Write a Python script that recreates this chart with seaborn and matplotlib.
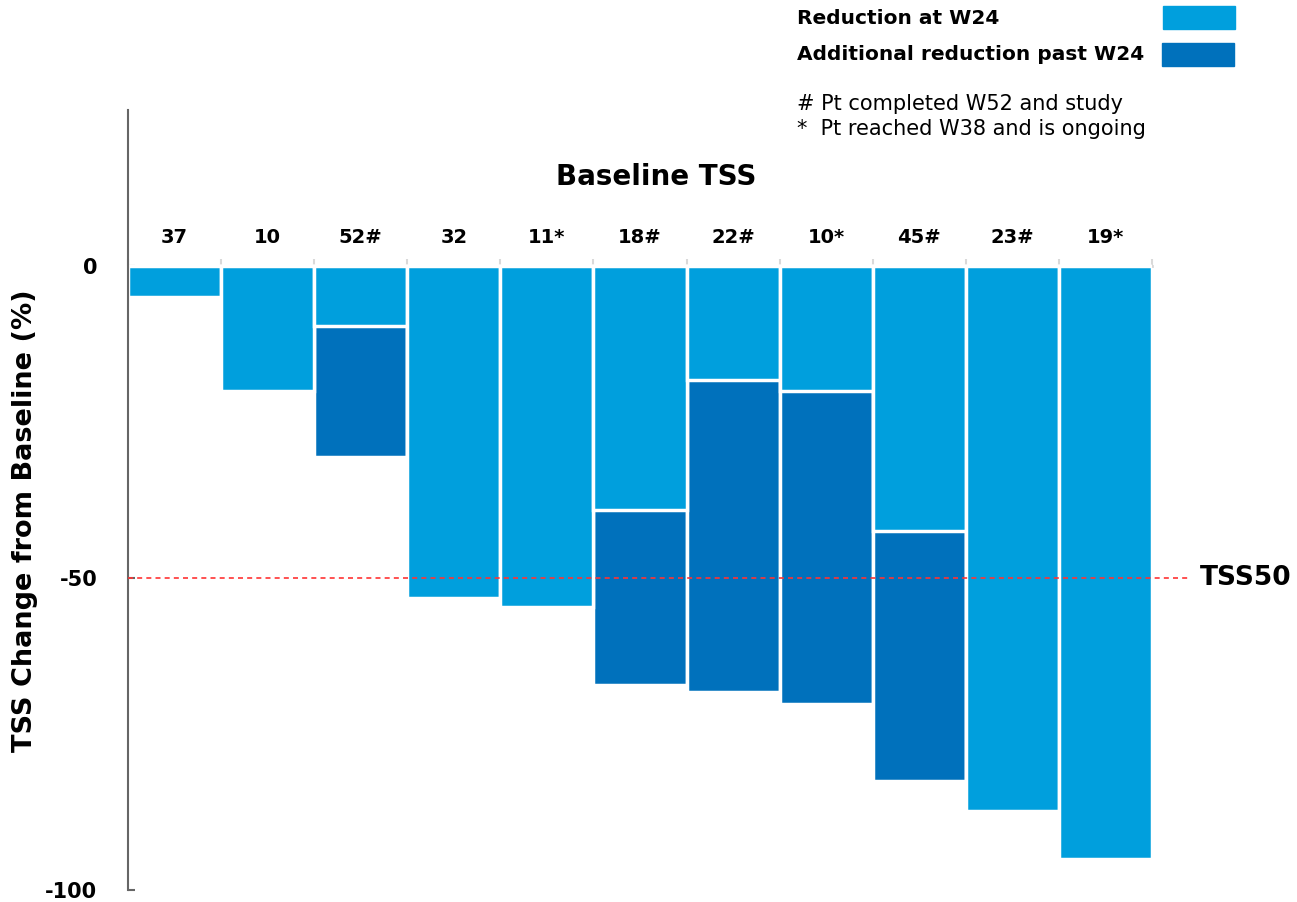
import matplotlib
matplotlib.use("Agg")
import matplotlib.pyplot as plt
import seaborn as sns
import pandas as pd
from matplotlib.patches import Rectangle

## values
baseline_tss = ["37", "10", "52#", "32", "11*", "18#", "22#", "10*", "45#", "23#", "19*"]
reduction_w24 = [-5.0, -20.0, -9.6, -53.2, -54.6, -39.1, -18.3, -20.0, -42.5, -87.3, -95.0]
reduction_final = [-5.0, -20.0, -30.6, -53.2, -54.6, -67.1, -68.3, -70.2, -82.5, -87.3, -95.0]
y_ticks = [0, -50, -100]

light_blue = "#009FDD"
dark_blue = "#0071BC"

sns.set_theme(style="white")
plt.rcParams["font.family"] = ["DejaVu Sans"]
plt.rcParams["text.color"] = "black"
plt.rcParams["xtick.color"] = "black"
plt.rcParams["ytick.color"] = "black"
plt.rcParams["axes.labelcolor"] = "black"

df = pd.DataFrame({"tss": baseline_tss, "w24": reduction_w24, "final": reduction_final})

fig = plt.figure(figsize=(12.97, 9.02), dpi=100)
ax = fig.add_axes([128 / 1297, 12 / 902, 1024 / 1297, 780 / 902])

# dark (total) first, light (W24) drawn over it
sns.barplot(data=df, x="tss", y="final", color=dark_blue, width=1.0, saturation=1,
            edgecolor="white", linewidth=2.5, ax=ax)
sns.barplot(data=df, x="tss", y="w24", color=light_blue, width=1.0, saturation=1,
            edgecolor="white", linewidth=2.5, ax=ax)

ax.set_xlim(-0.5, len(baseline_tss) - 0.5)
ax.set_ylim(-100, 25)

# spines
for s in ["right", "bottom"]:
    ax.spines[s].set_visible(False)
ax.spines["left"].set_color("#666666")
ax.spines["left"].set_linewidth(1.5)
ax.spines["top"].set_position(("data", 0))
ax.spines["top"].set_color("#d9d9d9")
ax.spines["top"].set_linewidth(2)
ax.spines["top"].set_zorder(0.5)

# category labels on top
ax.xaxis.tick_top()
ax.set_xticks(range(len(baseline_tss)))
ax.set_xticklabels(baseline_tss, fontsize=14, fontweight="bold")
ax.set_xticks([i - 0.5 for i in range(len(baseline_tss) + 1)], minor=True)
ax.tick_params(axis="x", which="major", length=0, pad=14)
ax.tick_params(axis="x", which="minor", top=True, length=5, width=1.5, color="#d9d9d9",
               direction="out")
ax.set_xlabel("")

ax.set_yticks(y_ticks)
ax.set_yticklabels([str(v) for v in y_ticks], fontsize=15, fontweight="bold")
ax.tick_params(axis="y", left=True, length=5, width=1.5, color="#666666", direction="in",
               pad=22)
ax.set_ylabel("TSS Change from Baseline (%)", fontsize=19.5, fontweight="bold")
ax.yaxis.set_label_coords(-0.088, 0.474)

# TSS50 threshold
ax.axhline(-50, xmin=0, xmax=1.037, color="#ff3333", linestyle=(0, (3, 2.5)),
           linewidth=1.2, clip_on=False, zorder=5)
ax.text(1.047, -50, "TSS50", transform=ax.get_yaxis_transform(), fontsize=19,
        fontweight="bold", va="center", ha="left")

fig.text(656 / 1297, 1 - 177 / 902, "Baseline TSS", fontsize=20, fontweight="bold",
         ha="center", va="center")

# legend
fig.text(797 / 1297, 1 - 19 / 902, "Reduction at W24", fontsize=14.5, fontweight="bold",
         va="center")
fig.text(797 / 1297, 1 - 54 / 902, "Additional reduction past W24", fontsize=14.5,
         fontweight="bold", va="center")
fig.patches.append(Rectangle((1163 / 1297, 1 - 29 / 902), 72 / 1297, 23 / 902,
                             transform=fig.transFigure, color=light_blue))
fig.patches.append(Rectangle((1162 / 1297, 1 - 66 / 902), 72 / 1297, 23 / 902,
                             transform=fig.transFigure, color=dark_blue))
fig.text(797 / 1297, 1 - 104 / 902, "# Pt completed W52 and study", fontsize=15, va="center")
fig.text(797 / 1297, 1 - 129 / 902, "*  Pt reached W38 and is ongoing", fontsize=15,
         va="center")

fig.savefig("out.png", dpi=100)
